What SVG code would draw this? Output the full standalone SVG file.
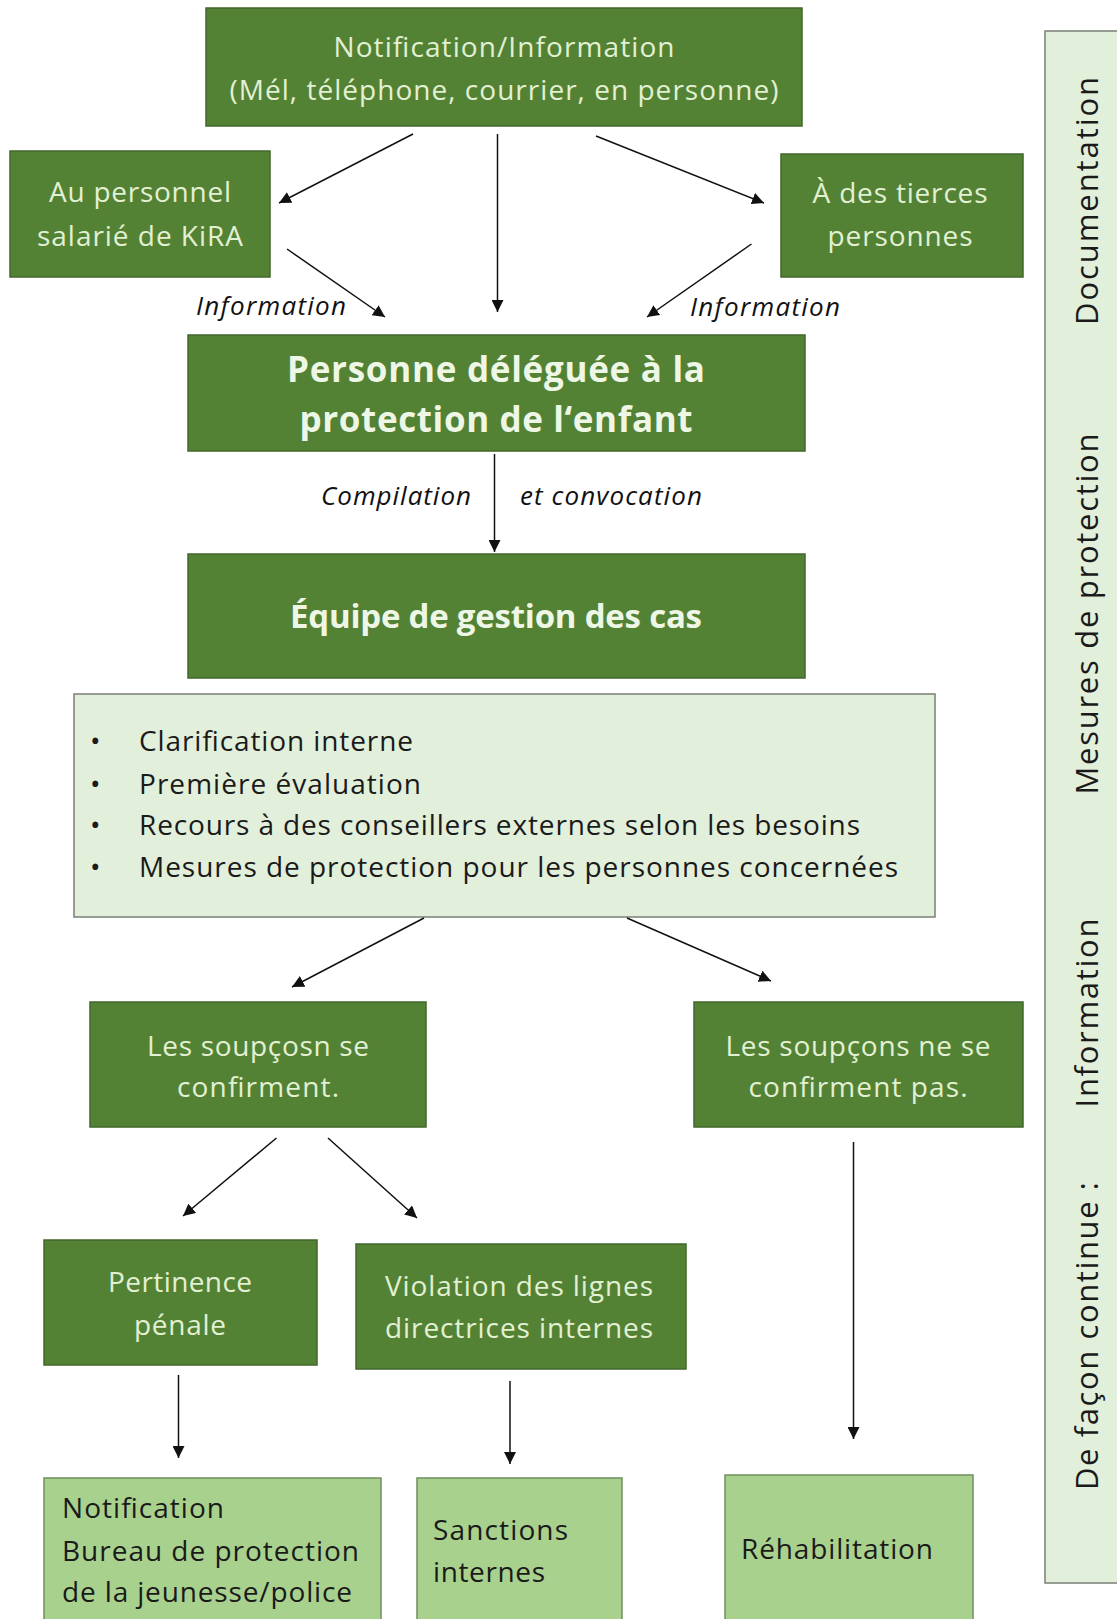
<svg xmlns="http://www.w3.org/2000/svg" width="1117" height="1619" viewBox="0 0 1117 1619">
<style>
.dk{fill:#548235;stroke:#41672b;stroke-width:1.5}
.lt{fill:#a9d18e;stroke:#6f8f5f;stroke-width:1.5}
.pl{fill:#e2efda;stroke:#7a7f78;stroke-width:1.5}
text{font-family:"Open Sans","Noto Sans","Liberation Sans",sans-serif}
.w{fill:#e2f0d3;font-size:28px;text-anchor:middle}
.wb{fill:#eef7e6;font-size:35px;font-weight:bold;text-anchor:middle}
.k{fill:#1a1a1a;font-size:28px}
.i{fill:#111;font-size:26px;font-style:italic}
.s{fill:#1a1a1a;font-size:31px;text-anchor:middle}
.c line{stroke:#111;stroke-width:1.5;marker-end:url(#a)}
</style>
<defs>
<marker id="a" markerUnits="userSpaceOnUse" markerWidth="14" markerHeight="12" refX="12" refY="6" orient="auto">
<path d="M0,0 L12,6 L0,12 z" fill="#111"/>
</marker>
</defs>
<rect width="1117" height="1619" fill="#ffffff"/>

<g id="n-top">
<rect class="dk" x="206" y="8" width="596" height="118"/>
<text class="w" x="504" y="57" textLength="341">Notification/Information</text>
<text class="w" x="504" y="100" textLength="549">(Mél, téléphone, courrier, en personne)</text>
</g>
<g id="n-personnel">
<rect class="dk" x="10" y="151" width="260" height="126"/>
<text class="w" x="140" y="202" textLength="182">Au personnel</text>
<text class="w" x="140" y="246" textLength="206">salarié de KiRA</text>
</g>
<g id="n-tierces">
<rect class="dk" x="781" y="154" width="242" height="123"/>
<text class="w" x="900" y="203" textLength="175">À des tierces</text>
<text class="w" x="900" y="246" textLength="145">personnes</text>
</g>
<g id="n-delegue">
<rect class="dk" x="188" y="335" width="617" height="116"/>
<text class="wb" x="496" y="382" textLength="418">Personne déléguée à la</text>
<text class="wb" x="496" y="432" textLength="393">protection de l‘enfant</text>
</g>
<g id="n-equipe">
<rect class="dk" x="188" y="554" width="617" height="124"/>
<text class="wb" x="496" y="628" textLength="412" style="font-size:33px">Équipe de gestion des cas</text>
</g>
<g id="n-liste">
<rect class="pl" x="74" y="694" width="861" height="223"/>
<text class="k" x="90" y="751">•</text>
<text class="k" x="139" y="751" textLength="274">Clarification interne</text>
<text class="k" x="90" y="794">•</text>
<text class="k" x="139" y="794" textLength="282">Première évaluation</text>
<text class="k" x="90" y="835">•</text>
<text class="k" x="139" y="835" textLength="721">Recours à des conseillers externes selon les besoins</text>
<text class="k" x="90" y="877">•</text>
<text class="k" x="139" y="877" textLength="759">Mesures de protection pour les personnes concernées</text>
</g>
<g id="n-confirment">
<rect class="dk" x="90" y="1002" width="336" height="125"/>
<text class="w" x="258" y="1056" textLength="222">Les soupçosn se</text>
<text class="w" x="258" y="1097" textLength="162">confirment.</text>
</g>
<g id="n-pas">
<rect class="dk" x="694" y="1002" width="329" height="125"/>
<text class="w" x="858" y="1056" textLength="265">Les soupçons ne se</text>
<text class="w" x="858" y="1097" textLength="219">confirment pas.</text>
</g>
<g id="n-penale">
<rect class="dk" x="44" y="1240" width="273" height="125"/>
<text class="w" x="180" y="1292" textLength="144">Pertinence</text>
<text class="w" x="180" y="1335" textLength="92">pénale</text>
</g>
<g id="n-violation">
<rect class="dk" x="356" y="1244" width="330" height="125"/>
<text class="w" x="519" y="1296" textLength="268">Violation des lignes</text>
<text class="w" x="519" y="1338" textLength="268">directrices internes</text>
</g>
<g id="n-notification">
<rect class="lt" x="44" y="1478" width="337" height="150"/>
<text class="k" x="62" y="1518" textLength="162">Notification</text>
<text class="k" x="62" y="1561" textLength="297">Bureau de protection</text>
<text class="k" x="62" y="1602" textLength="290">de la jeunesse/police</text>
</g>
<g id="n-sanctions">
<rect class="lt" x="417" y="1478" width="205" height="150"/>
<text class="k" x="433" y="1540" textLength="135">Sanctions</text>
<text class="k" x="433" y="1582" textLength="112">internes</text>
</g>
<g id="n-rehab">
<rect class="lt" x="725" y="1475" width="248" height="150"/>
<text class="k" x="741" y="1559" textLength="192">Réhabilitation</text>
</g>
<g id="n-continu">
<rect class="pl" x="1045" y="31" width="90" height="1552"/>
<text class="s" transform="translate(1098,201) rotate(-90)" textLength="248">Documentation</text>
<text class="s" transform="translate(1098,614) rotate(-90)" textLength="361">Mesures de protection</text>
<text class="s" transform="translate(1098,1013) rotate(-90)" textLength="189">Information</text>
<text class="s" transform="translate(1098,1336) rotate(-90)" textLength="308">De façon continue :</text>
</g>

<g id="connectors" class="c">
<line x1="413" y1="134" x2="279" y2="203"/>
<line x1="497.5" y1="134" x2="497.5" y2="312"/>
<line x1="596" y1="136" x2="764" y2="203"/>
<line x1="287" y1="249" x2="385" y2="317"/>
<line x1="751.5" y1="244" x2="647" y2="317"/>
<line x1="494.5" y1="454" x2="494.5" y2="552"/>
<line x1="424" y1="918" x2="292" y2="987"/>
<line x1="627" y1="918" x2="771" y2="981"/>
<line x1="276.5" y1="1138" x2="183" y2="1216"/>
<line x1="328" y1="1138" x2="417" y2="1218"/>
<line x1="178.5" y1="1375" x2="178.5" y2="1458"/>
<line x1="510" y1="1381" x2="510" y2="1464"/>
<line x1="853.5" y1="1142" x2="853.5" y2="1439"/>
</g>
<g id="labels">
<text class="i" x="196" y="315" textLength="150">Information</text>
<text class="i" x="690" y="316" textLength="150">Information</text>
<text class="i" x="321" y="505" textLength="150">Compilation</text>
<text class="i" x="520" y="505" textLength="182">et convocation</text>
</g>
</svg>
